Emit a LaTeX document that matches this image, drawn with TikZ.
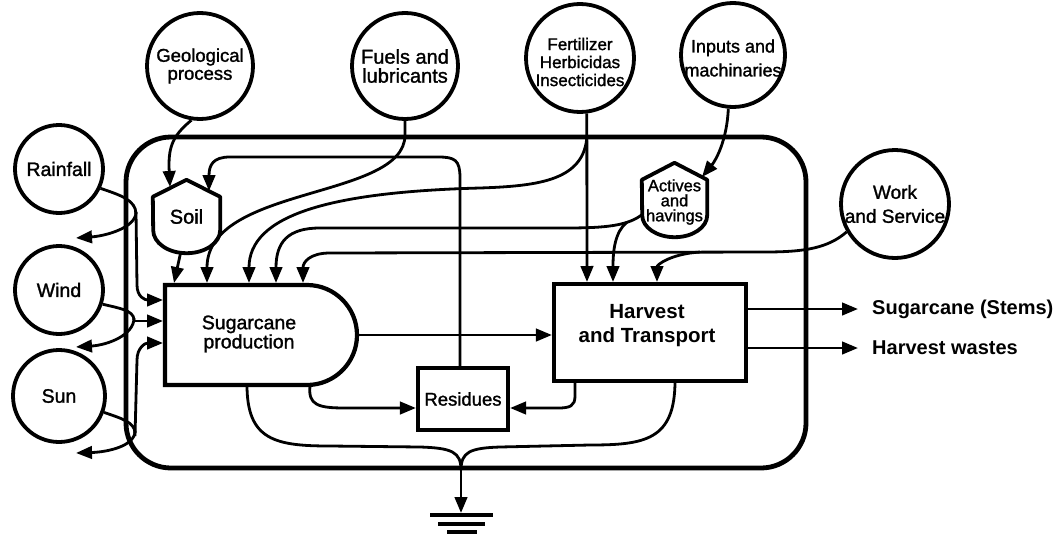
\documentclass[tikz,border=0pt]{standalone}
\usepackage{fontspec}
\setmainfont{Liberation Sans}
\newfontfamily\medfont{Liberation Sans}[FakeBold=1.4]
\usetikzlibrary{arrows.meta,calc}
\begin{document}
\begin{tikzpicture}[x=1pt,y=-1pt,
  flow/.style={line width=2.8pt, -{Triangle[length=16pt,width=12.5pt]}},
  plain/.style={line width=2.8pt},
  src/.style={circle, draw, line width=3.8pt, inner sep=0pt, align=center},
  box/.style={draw, line width=4.2pt, inner sep=0pt, align=center},
  lab/.style={inner sep=0pt, align=center},
  tank/.style={line width=3.8pt, line join=round}
]
\useasboundingbox (0,0) rectangle (1062,538);

% system frame
\node[draw, line width=4.8pt, rounded corners=45pt, minimum width=680, minimum height=331, inner sep=0pt] (sys) at (466,302.5) {};

% sources
\node[src, minimum size=88, font=\medfont\fontsize{19.5}{20}\selectfont] (rain) at (59,169) {Rainfall};
\node[src, minimum size=88, font=\medfont\fontsize{19.5}{20}\selectfont] (wind) at (59,290) {Wind};
\node[src, minimum size=92, font=\medfont\fontsize{19.5}{20}\selectfont] (sun) at (59,396) {Sun};
\node[src, minimum size=106, font=\medfont\fontsize{18.5}{18}\selectfont] (geo) at (200,66) {Geological\\process};
\node[src, minimum size=106, font=\medfont\fontsize{20}{19}\selectfont] (fuel) at (405,66) {Fuels and\\lubricants};
\node[src, minimum size=108] (fert) at (580,58) {};
\node[lab, font=\medfont\fontsize{17}{18}\selectfont] (fertt) at (580,62) {Fertilizer\\Herbicidas\\Insecticides};
\node[src, minimum size=104] (inp) at (733,55) {};
\node[lab, font=\medfont\fontsize{18}{24}\selectfont] (inpt) at (733,58) {Inputs and\\machinaries};
\node[src, minimum size=108, font=\medfont\fontsize{19}{24}\selectfont] (work) at (895,204) {Work\\and Service};

% storage tanks
\node[lab, minimum width=67, minimum height=73, font=\medfont\fontsize{20}{20}\selectfont] (soil) at (186.5,216.5) {Soil};
\draw[tank] (soil.north) -- ($(soil.north east)+(0,17)$) -- ($(soil.south east)+(0,-23)$)
  arc[start angle=0, end angle=-180, x radius=33.5pt, y radius=23pt] -- ($(soil.north west)+(0,17)$) -- cycle;
\node[lab, minimum width=65, minimum height=74] (act) at (674.5,200) {};
\node[lab, font=\medfont\fontsize{16.5}{15}\selectfont] (actt) at (674.5,202) {Actives\\and\\havings};
\draw[tank] (act.north) -- ($(act.north east)+(0,17)$) -- ($(act.south east)+(0,-22)$)
  arc[start angle=0, end angle=-180, x radius=32.5pt, y radius=22pt] -- ($(act.north west)+(0,17)$) -- cycle;

% producer
\draw[line width=4.2pt] (165,285) -- (307,285) arc[start angle=90, end angle=-90, radius=50pt] -- (165,385) -- cycle;
\node[lab, font=\medfont\fontsize{19.5}{17}\selectfont] (sp) at (249,334) {Sugarcane\\production};

% harvest and residues
\node[box, minimum width=192, minimum height=97] (hv) at (650,332.5) {};
\node[lab, font=\bfseries\fontsize{20.5}{24}\selectfont] (hvt) at (647,326) {Harvest\\and Transport};
\node[box, minimum width=90, minimum height=62, font=\medfont\fontsize{18.5}{19}\selectfont] (res) at (463,399) {Residues};

% outputs
\node[lab, anchor=west, font=\bfseries\fontsize{20}{20}\selectfont] (o1) at (872,309) {Sugarcane (Stems)};
\node[lab, anchor=west, font=\bfseries\fontsize{20}{20}\selectfont] (o2) at (872,348) {Harvest wastes};
\draw[flow] (746,309) -- ([xshift=-14pt]o1.west);
\draw[flow] (746,348) -- ([xshift=-14pt]o2.west);

% geo -> soil, residues -> soil, soil -> sp
\draw[flow] (geo.-99) .. controls (172,136) and (168,148) .. (170,187);
\draw[flow] ([xshift=-3pt]res.north) -- (460,178) .. controls (460,160) and (455,157) .. (438,157) -- (230,157) .. controls (213,157) and (209,165) .. (209,191);
\draw[flow] ([xshift=-6pt]soil.south) -- (174,283);

% fuels
\draw[flow] (fuel.-90) -- (405,135) .. controls (405,200) and (207,185) .. (207,283);
% fertilizer
\draw[flow] (fert.-83) -- (587,282);
\draw[flow] (587,135) .. controls (585,180) and (540,186) .. (480,188) .. controls (330,192) and (249,215) .. (249,283);
% actives
\draw[flow] ($(act.west)+(1,14)$) .. controls (628,226) and (605,228) .. (565,228) -- (320,228) .. controls (288,228) and (276,242) .. (276,283);
\draw[flow] (627,222) .. controls (615,232) and (613,250) .. (613,282);
% work
\draw[flow] (work.210) .. controls (828,248) and (805,252) .. (765,252) -- (330,253) .. controls (310,253) and (303,262) .. (303,283);
\draw[flow] (700,252) .. controls (670,254) and (657,265) .. (657,282);
% inputs -> actives
\draw[flow] (inp.-95) .. controls (727,140) and (716,160) .. (702,177);

% sp -> hv, residues
\draw[flow] (357,335) -- (hv.west |- 0,335);
\draw[flow] (310,386) .. controls (308,405) and (318,408) .. (345,408) -- ([yshift=-9pt]res.west);
\draw[flow] (575,381) -- (575,396) .. controls (575,406) and (570,408) .. (558,408) -- ([yshift=-9pt]res.east);

% to ground
\coordinate (gnd) at (461,513);
\draw[plain] (247,385) .. controls (247,440) and (275,446) .. (330,446) -- (420,447) .. controls (452,448) and (461,452) .. (461,470);
\draw[plain] (675,381) .. controls (675,440) and (645,445) .. (590,445) -- (500,447) .. controls (470,448) and (461,452) .. (461,470);
\draw[flow] (461,466) -- (gnd);
\draw[line width=4pt] (430,515) -- (493,515) (438,524) -- (485,524) (447,532) -- (477,532);

% rainfall
\draw[plain] (rain.-25) .. controls (120,195) and (136,200) .. (136,214);
\draw[flow] (136,212) -- (137,285) .. controls (137,297) and (145,300) .. (163,300);
\draw[flow] (136,212) .. controls (136,228) and (105,236) .. (76,238);
% wind
\draw[plain] (wind.-18) .. controls (118,308) and (134,310) .. (134,320);
\draw[flow] (134,321) -- (163,321);
\draw[flow] (134,318) .. controls (134,335) and (108,345) .. (76,347);
% sun
\draw[plain] (sun.-20) .. controls (120,418) and (135,422) .. (135,433);
\draw[flow] (135,431) .. controls (135,446) and (108,452) .. (76,453);
\draw[flow] (135,436) -- (137,360) .. controls (137,348) and (145,343) .. (163,343);
\end{tikzpicture}
\end{document}
